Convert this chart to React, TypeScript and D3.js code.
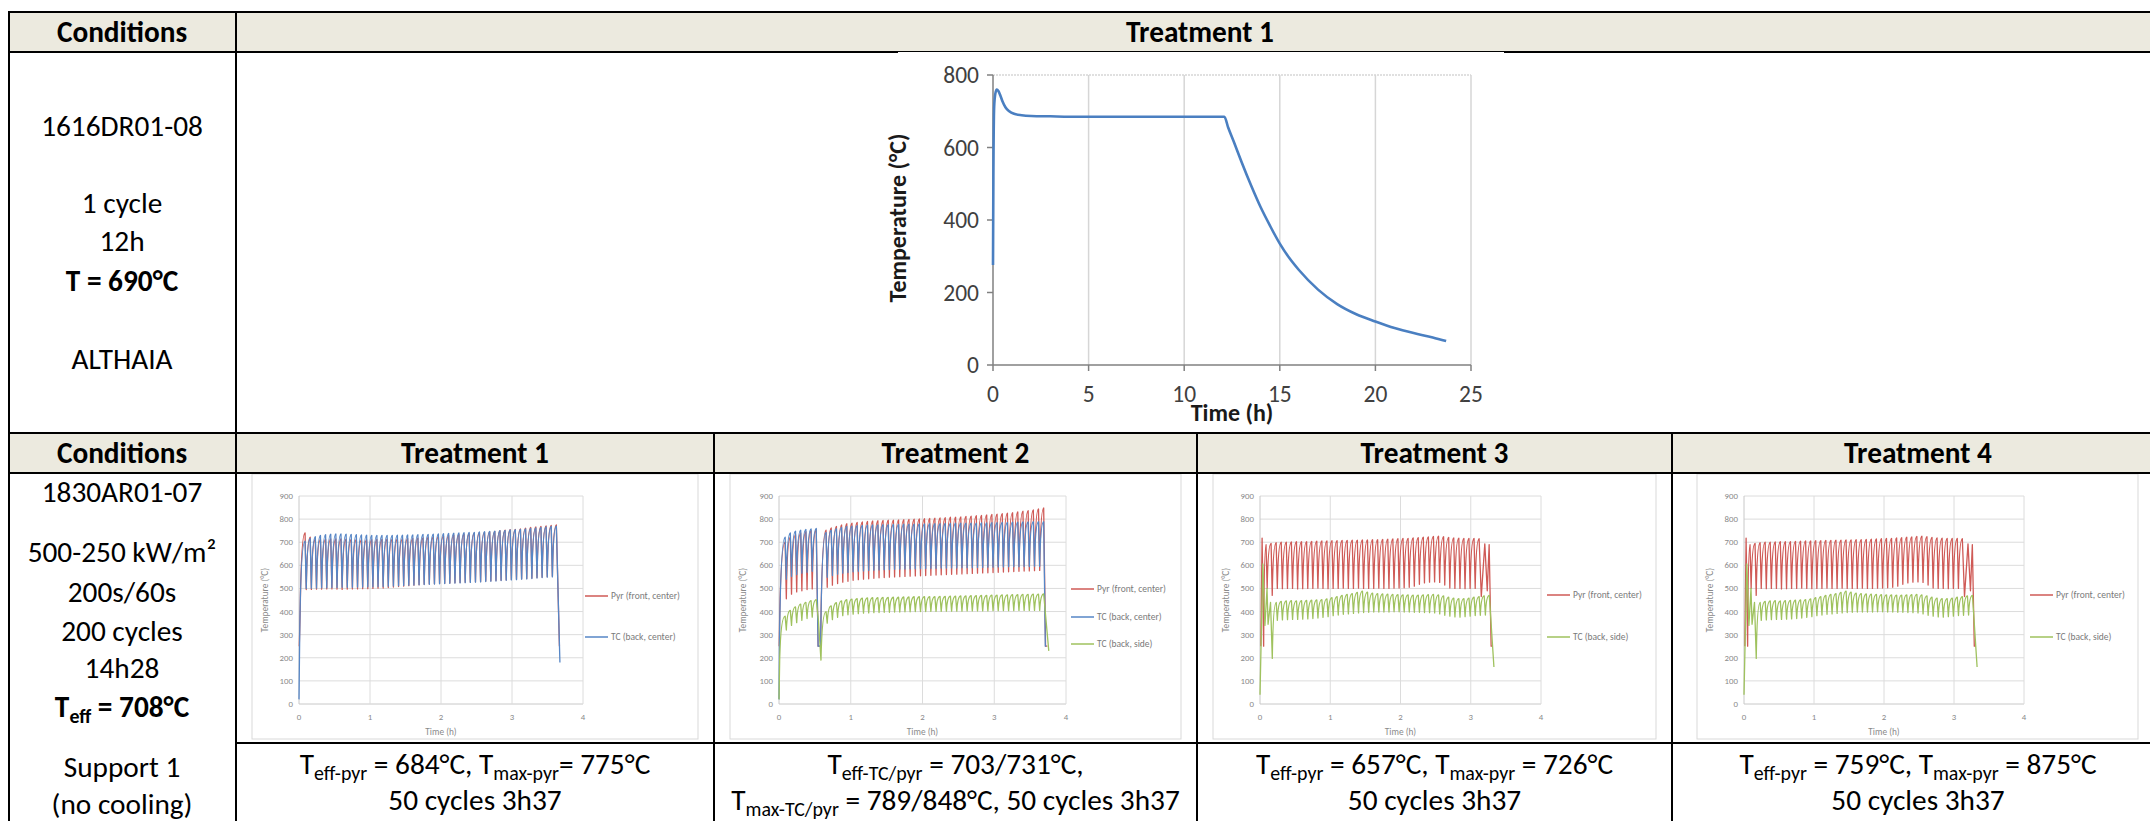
import React from "react";
import * as d3 from "d3";

const FONT = "Carlito, Calibri, 'Open Sans', 'Noto Sans', 'DejaVu Sans', sans-serif";

// ---------------- Top chart: 1616DR01-08 / Treatment 1 ----------------
const topTimeH = [0, 0.02, 0.06, 0.12, 0.2, 0.28, 0.38, 0.5, 0.65, 0.85, 1.1, 1.5, 2.0, 3, 4, 6, 8, 10, 12.1, 12.3, 12.6, 13, 13.5, 14, 14.5, 15, 15.5, 16, 17, 18, 19, 20, 21, 22, 23, 23.7];
const topTempC = [276, 520, 712, 748, 760, 756, 744, 727, 711, 700, 693, 689, 687, 686, 685, 685, 685, 685, 685, 655, 615, 560, 495, 435, 383, 335, 295, 262, 208, 168, 140, 120, 102, 88, 76, 66];
const topXTicks = [0, 5, 10, 15, 20, 25];
const topYTicks = [0, 200, 400, 600, 800];

// ---------------- Cycle timing (200s / 60s) ----------------
const HEAT_S = 200;
const COOL_S = 60;
const CYC_H = (HEAT_S + COOL_S) / 3600;
const HEAT_H = HEAT_S / 3600;

// ---------------- Treatment 1 (Pyr front center, TC back center) ----------------
const t1PyrStart: [number, number][] = [[0.004, 250], [0.018, 420]];
const t1PyrPeaks = [740, 722, 713, 712, 713, 714, 714, 714, 713, 712, 712, 711, 711, 711, 712, 712, 713, 713, 714, 715, 716, 717, 718, 719, 721, 723, 725, 727, 729, 731, 733, 735, 737, 739, 741, 743, 745, 747, 750, 752, 754, 756, 758, 761, 764, 766, 768, 771, 773, 775];
const t1PyrTroughs = [495, 496, 497, 497, 498, 498, 497, 496, 497, 498, 498, 499, 499, 500, 501, 502, 504, 506, 508, 510, 512, 514, 516, 518, 519, 520, 522, 523, 524, 525, 526, 527, 528, 529, 530, 532, 533, 534, 536, 537, 539, 540, 542, 543, 545, 547, 549, 551, 553];
const t1PyrEnd: [number, number][] = [[3.668, 250]];
const t1TcStart: [number, number][] = [[0.0, 20], [0.01, 300]];
const t1TcPeaks = [705, 716, 724, 729, 733, 735, 736, 736, 735, 734, 733, 732, 731, 730, 730, 729, 730, 730, 731, 731, 732, 732, 733, 734, 734, 735, 736, 737, 738, 739, 740, 741, 742, 743, 745, 746, 747, 748, 750, 751, 753, 754, 756, 758, 760, 762, 764, 766, 768, 770];
const t1TcTroughs = [500, 501, 502, 503, 503, 504, 504, 505, 505, 505, 506, 506, 507, 507, 508, 509, 510, 511, 512, 513, 514, 515, 516, 517, 518, 519, 520, 521, 522, 523, 524, 525, 526, 527, 528, 530, 531, 532, 534, 535, 537, 538, 540, 541, 543, 545, 547, 549, 550];
const t1TcEnd: [number, number][] = [[3.675, 180]];

// ---------------- Treatment 2 (Pyr, TC back center, TC back side) ----------------
const t2PyrStart: [number, number][] = [[0.003, 250]];
const t2PyrPeaksA = [700, 722, 733, 740, 746, 751, 755];
const t2PyrTroughsA = [455, 475, 485, 490, 495, 498];
const t2PyrPause: [number, number][] = [[0.545, 250], [0.58, 250]];
const t2PyrPeaksB = [752, 762, 769, 775, 780, 783, 786, 788, 790, 792, 793, 794, 795, 796, 797, 798, 799, 800, 801, 802, 803, 804, 805, 806, 808, 809, 810, 812, 813, 815, 816, 818, 820, 822, 824, 826, 828, 831, 834, 837, 840, 844, 848];
const t2PyrTroughsB = [505, 514, 521, 527, 531, 535, 538, 540, 542, 544, 546, 547, 549, 550, 551, 552, 553, 554, 555, 556, 557, 558, 559, 560, 561, 562, 563, 564, 565, 566, 567, 568, 569, 570, 571, 572, 573, 574, 575, 576, 577, 578];
const t2PyrEnd: [number, number][] = [[3.715, 250], [3.74, 250]];
const t2TcStart: [number, number][] = [[0.0, 20], [0.006, 250]];
const t2TcPeaksA = [722, 740, 748, 752, 756, 758, 760];
const t2TcTroughsA = [540, 552, 560, 566, 570, 574];
const t2TcPause: [number, number][] = [[0.545, 250], [0.58, 250]];
const t2TcPeaksB = [742, 752, 759, 764, 768, 770, 772, 773, 774, 775, 775, 776, 776, 777, 777, 778, 778, 778, 779, 779, 780, 780, 780, 781, 781, 782, 782, 782, 783, 783, 784, 784, 785, 785, 786, 786, 787, 787, 788, 788, 789, 789, 789];
const t2TcTroughsB = [548, 556, 562, 566, 569, 572, 574, 576, 578, 579, 580, 581, 582, 583, 584, 584, 585, 585, 586, 586, 587, 587, 588, 588, 589, 589, 590, 590, 590, 591, 591, 592, 592, 593, 593, 594, 594, 594, 595, 595, 596, 596];
const t2TcEnd: [number, number][] = [[3.712, 250], [3.725, 250]];
const t2SideStart: [number, number][] = [[0.0, 20], [0.01, 200]];
const t2SidePeaksA = [380, 405, 420, 432, 440, 447, 452];
const t2SideTroughsA = [320, 340, 352, 362, 370, 376];
const t2SidePause: [number, number][] = [[0.55, 360], [0.585, 190]];
const t2SidePeaksB = [400, 425, 438, 446, 451, 454, 456, 458, 459, 460, 460, 461, 461, 462, 462, 463, 463, 464, 464, 465, 465, 465, 466, 466, 467, 467, 468, 468, 469, 469, 470, 470, 471, 471, 472, 472, 473, 473, 474, 474, 475, 475, 476];
const t2SideTroughsB = [350, 365, 375, 382, 386, 389, 391, 393, 394, 395, 396, 397, 397, 398, 398, 399, 399, 400, 400, 400, 401, 401, 401, 402, 402, 402, 402, 403, 403, 403, 403, 403, 404, 404, 404, 404, 404, 405, 405, 405, 405, 405];
const t2SideEnd: [number, number][] = [[3.76, 230]];

// ---------------- Treatments 3 and 4 (Pyr, TC back side) ----------------
const t3PyrStart: [number, number][] = [[0.012, 250], [0.03, 718], [0.052, 250]];
const t3PyrPeaks = [690, 695, 698, 700, 700, 701, 702, 702, 703, 704, 705, 706, 706, 707, 707, 708, 708, 709, 709, 710, 710, 711, 711, 712, 713, 714, 715, 716, 717, 719, 720, 722, 723, 725, 726, 724, 721, 719, 718, 717, 716, 716, 715];
const t3PyrTroughs = [500, 470, 500, 499, 500, 500, 498, 499, 500, 500, 501, 500, 499, 500, 500, 501, 500, 500, 501, 500, 500, 500, 501, 500, 500, 501, 502, 503, 505, 510, 518, 524, 527, 528, 526, 515, 502, 500, 500, 499, 500, 500];
const t3PyrEnd: [number, number][] = [[3.15, 465], [3.2, 693], [3.235, 490], [3.262, 690], [3.29, 250], [3.31, 250]];
const t3SideStart: [number, number][] = [[0.0, 40], [0.04, 606], [0.07, 340], [0.1, 500], [0.115, 345], [0.15, 440], [0.175, 197]];
const t3SidePeaks = [440, 444, 446, 447, 446, 447, 448, 449, 450, 452, 455, 460, 465, 470, 474, 478, 483, 488, 484, 480, 478, 476, 475, 474, 473, 472, 472, 471, 471, 472, 473, 474, 472, 468, 462, 458, 456, 456, 458, 462, 465, 468, 470];
const t3SideTroughs = [362, 364, 365, 366, 366, 367, 368, 370, 372, 375, 378, 382, 385, 388, 390, 392, 394, 396, 397, 398, 398, 398, 398, 399, 399, 398, 398, 397, 397, 396, 395, 394, 390, 384, 380, 377, 376, 378, 380, 383, 384, 385];
const t3SideEnd: [number, number][] = [[3.3, 300], [3.33, 160]];

// ---------------- Table texts ----------------
const headerConditions = "Conditions";
const headerTreatments = ["Treatment 1", "Treatment 2", "Treatment 3", "Treatment 4"];
const topConditions = ["1616DR01-08", "1 cycle", "12h", "T = 690°C", "ALTHAIA"];
const bottomConditions = ["1830AR01-07", "500-250 kW/m²", "200s/60s", "200 cycles", "14h28", "T_eff = 708°C", "Support 1", "(no cooling)"];
type Part = [string, boolean];
const resultLines: Part[][][] = [
  [[["T", false], ["eff-pyr", true], [" = 684°C, T", false], ["max-pyr", true], ["= 775°C", false]], [["50 cycles 3h37", false]]],
  [[["T", false], ["eff-TC/pyr", true], [" = 703/731°C,", false]], [["T", false], ["max-TC/pyr", true], [" = 789/848°C, 50 cycles 3h37", false]]],
  [[["T", false], ["eff-pyr", true], [" = 657°C, T", false], ["max-pyr", true], [" = 726°C", false]], [["50 cycles 3h37", false]]],
  [[["T", false], ["eff-pyr", true], [" = 759°C, T", false], ["max-pyr", true], [" = 875°C", false]], [["50 cycles 3h37", false]]],
];
const smallYTicks = [0, 100, 200, 300, 400, 500, 600, 700, 800, 900];
const smallXTicks = [0, 1, 2, 3, 4];

const RED = "#cf5a56";
const BLUE = "#5686c6";
const GREEN = "#9fc25e";
const FS = 29.3;

type Seg = { kind: "pts"; pts: [number, number][] } | { kind: "cyc"; t0: number; peaks: number[]; troughs: number[] };
type Series = { name: string; color: string; segs: Seg[] };

function seriesPath(segs: Seg[], x: (v: number) => number, y: (v: number) => number): string {
  const p = d3.path();
  let cx = 0;
  let started = false;
  const go = (px: number, py: number) => {
    if (!started) { p.moveTo(px, py); started = true; } else p.lineTo(px, py);
    cx = px;
  };
  for (const s of segs) {
    if (s.kind === "pts") {
      s.pts.forEach(([t, v]) => go(x(t), y(v)));
    } else {
      s.peaks.forEach((pk, i) => {
        const px = x(s.t0 + i * CYC_H + HEAT_H);
        const py = y(pk);
        if (!started) go(px, py);
        else { p.quadraticCurveTo(cx + 0.22 * (px - cx), py, px, py); cx = px; }
        if (i < s.troughs.length) go(x(s.t0 + (i + 1) * CYC_H), y(s.troughs[i]));
      });
    }
  }
  return p.toString();
}

const t1Series: Series[] = [
  { name: "Pyr (front, center)", color: RED, segs: [{ kind: "pts", pts: t1PyrStart }, { kind: "cyc", t0: 0.03, peaks: t1PyrPeaks, troughs: t1PyrTroughs }, { kind: "pts", pts: t1PyrEnd }] },
  { name: "TC (back, center)", color: BLUE, segs: [{ kind: "pts", pts: t1TcStart }, { kind: "cyc", t0: 0.03, peaks: t1TcPeaks, troughs: t1TcTroughs }, { kind: "pts", pts: t1TcEnd }] },
];
const t2Series: Series[] = [
  { name: "Pyr (front, center)", color: RED, segs: [{ kind: "pts", pts: t2PyrStart }, { kind: "cyc", t0: 0.03, peaks: t2PyrPeaksA, troughs: t2PyrTroughsA }, { kind: "pts", pts: t2PyrPause }, { kind: "cyc", t0: 0.6, peaks: t2PyrPeaksB, troughs: t2PyrTroughsB }, { kind: "pts", pts: t2PyrEnd }] },
  { name: "TC (back, center)", color: BLUE, segs: [{ kind: "pts", pts: t2TcStart }, { kind: "cyc", t0: 0.03, peaks: t2TcPeaksA, troughs: t2TcTroughsA }, { kind: "pts", pts: t2TcPause }, { kind: "cyc", t0: 0.6, peaks: t2TcPeaksB, troughs: t2TcTroughsB }, { kind: "pts", pts: t2TcEnd }] },
  { name: "TC (back, side)", color: GREEN, segs: [{ kind: "pts", pts: t2SideStart }, { kind: "cyc", t0: 0.03, peaks: t2SidePeaksA, troughs: t2SideTroughsA }, { kind: "pts", pts: t2SidePause }, { kind: "cyc", t0: 0.6, peaks: t2SidePeaksB, troughs: t2SideTroughsB }, { kind: "pts", pts: t2SideEnd }] },
];
const t3Series: Series[] = [
  { name: "Pyr (front, center)", color: RED, segs: [{ kind: "pts", pts: t3PyrStart }, { kind: "cyc", t0: 0.03, peaks: t3PyrPeaks, troughs: t3PyrTroughs }, { kind: "pts", pts: t3PyrEnd }] },
  { name: "TC (back, side)", color: GREEN, segs: [{ kind: "pts", pts: t3SideStart }, { kind: "cyc", t0: 0.175, peaks: t3SidePeaks, troughs: t3SideTroughs }, { kind: "pts", pts: t3SideEnd }] },
];

function Rich({ x, y, parts, size = FS, weight = 400 }: { x: number; y: number; parts: Part[]; size?: number; weight?: number }) {
  let shifted = false;
  const nodes = parts.map(([s, sub], i) => {
    const dy = sub && !shifted ? 6 : !sub && shifted ? -6 : 0;
    shifted = sub;
    return (
      <tspan key={i} dy={dy} fontSize={sub ? size * 0.68 : size}>{s}</tspan>
    );
  });
  return (
    <text x={x} y={y} textAnchor="middle" fontFamily={FONT} fontWeight={weight} fontSize={size} fill="#000" style={{ whiteSpace: "pre" }}>
      {nodes}
    </text>
  );
}

function SmallChart({ fx0, fx1, px0, px1, series, legendX, legendYs, layer }: { fx0: number; fx1: number; px0: number; px1: number; series: Series[]; legendX: number; legendYs: number[]; layer: string }) {
  const x = d3.scaleLinear().domain([0, 4]).range([px0, px1]);
  const y = d3.scaleLinear().domain([0, 900]).range([704, 496]);
  return (
    <g>
      <rect x={fx0} y={474} width={fx1 - fx0} height={265} fill="#fff" stroke="#d9d9d9" strokeWidth={1} />
      {smallYTicks.map((v) => (
        <line key={"h" + v} x1={px0} x2={px1} y1={y(v)} y2={y(v)} stroke={v === 0 ? "#c8c8c8" : "#dcdcdc"} strokeWidth={1} />
      ))}
      {smallXTicks.map((v) => (
        <line key={"v" + v} x1={x(v)} x2={x(v)} y1={y(0)} y2={y(900)} stroke={v === 0 ? "#c8c8c8" : "#dcdcdc"} strokeWidth={1} />
      ))}
      {smallYTicks.map((v) => (
        <text key={"yl" + v} x={px0 - 6} y={y(v) + 3} textAnchor="end" fontFamily={FONT} fontSize={8.8} fill="#8a8a8a">{v}</text>
      ))}
      {smallXTicks.map((v) => (
        <text key={"xl" + v} x={x(v)} y={720} textAnchor="middle" fontFamily={FONT} fontSize={8.8} fill="#8a8a8a">{v}</text>
      ))}
      <text x={(px0 + px1) / 2} y={735} textAnchor="middle" fontFamily={FONT} fontSize={9.3} fill="#8a8a8a">Time (h)</text>
      <text transform={`translate(${fx0 + 16},600) rotate(-90)`} textAnchor="middle" fontFamily={FONT} fontSize={9.3} fill="#8a8a8a">Temperature (°C)</text>
      <clipPath id={"clip" + layer}>
        <rect x={px0 - 2} y={480} width={px1 - px0 + 12} height={230} />
      </clipPath>
      <g clipPath={`url(#clip${layer})`}>
        {series.map((s) => (
          <path key={s.name} d={seriesPath(s.segs, x, y)} fill="none" stroke={s.color} strokeWidth={1.3} strokeLinejoin="round" />
        ))}
      </g>
      {series.map((s, i) => (
        <g key={"lg" + s.name}>
          <line x1={legendX} x2={legendX + 23} y1={legendYs[i]} y2={legendYs[i]} stroke={s.color} strokeWidth={1.5} />
          <text x={legendX + 26} y={legendYs[i] + 3.2} fontFamily={FONT} fontSize={9.5} fill="#7a7a7a">{s.name}</text>
        </g>
      ))}
    </g>
  );
}

function TopChart() {
  const x = d3.scaleLinear().domain([0, 25]).range([993, 1471]);
  const y = d3.scaleLinear().domain([0, 800]).range([365, 75]);
  const line = d3.line<number>().x((_, i) => x(topTimeH[i])).y((d) => y(d)).curve(d3.curveMonotoneX);
  return (
    <g>
      <rect x={898} y={52} width={606} height={373} fill="#fff" />
      {topXTicks.slice(1).map((v) => (
        <line key={"g" + v} x1={x(v)} x2={x(v)} y1={y(0)} y2={y(800)} stroke="#d6d6d6" strokeWidth={1.5} />
      ))}
      <line x1={x(0)} x2={x(25)} y1={y(800)} y2={y(800)} stroke="#d6d6d6" strokeWidth={1.5} strokeDasharray="2 1" />
      <line x1={x(0)} x2={x(0)} y1={y(0)} y2={y(800)} stroke="#808080" strokeWidth={1.5} />
      <line x1={x(0)} x2={x(25)} y1={y(0)} y2={y(0)} stroke="#808080" strokeWidth={1.5} />
      {topYTicks.map((v) => (
        <g key={"yt" + v}>
          <line x1={x(0) - 6} x2={x(0)} y1={y(v)} y2={y(v)} stroke="#808080" strokeWidth={1.5} />
          <text x={x(0) - 14} y={y(v) + 8} textAnchor="end" fontFamily={FONT} fontSize={23.5} fill="#404040">{v}</text>
        </g>
      ))}
      {topXTicks.map((v) => (
        <g key={"xt" + v}>
          <line x1={x(v)} x2={x(v)} y1={y(0)} y2={y(0) + 6} stroke="#808080" strokeWidth={1.5} />
          <text x={x(v)} y={402} textAnchor="middle" fontFamily={FONT} fontSize={23.5} fill="#404040">{v}</text>
        </g>
      ))}
      <text x={1232} y={421} textAnchor="middle" fontFamily={FONT} fontWeight={700} fontSize={24} fill="#1a1a1a">Time (h)</text>
      <text transform="translate(906,218) rotate(-90)" textAnchor="middle" fontFamily={FONT} fontWeight={700} fontSize={24} fill="#1a1a1a">Temperature (°C)</text>
      <path d={line(topTempC) || ""} fill="none" stroke="#4a7fc1" strokeWidth={2.6} strokeLinejoin="round" />
    </g>
  );
}

export default function App() {
  const BEIGE = "#ECEADF";
  const LX = 9;
  const RX = 2170;
  const cols = [236, 714, 1197, 1672, 2164];
  const topColCenters = [122];
  const bottomCenters = [(cols[0] + cols[1]) / 2, (cols[1] + cols[2]) / 2, (cols[2] + cols[3]) / 2, (cols[3] + cols[4]) / 2];
  const topConditionYs = [136, 213, 251, 291, 369];
  const bottomConditionYs = [502, 562, 602, 641, 678, 717, 777, 814];
  return (
    <svg width={2150} height={821} style={{ position: "absolute", left: 0, top: 0, background: "#fff" }}>
      <rect x={0} y={0} width={2150} height={821} fill="#fff" />
      <rect x={LX} y={12} width={RX - LX} height={40} fill={BEIGE} />
      <rect x={LX} y={433} width={RX - LX} height={40} fill={BEIGE} />

      <TopChart />

      <SmallChart layer="a" fx0={252} fx1={698} px0={299} px1={583} series={t1Series} legendX={585} legendYs={[596, 637]} />
      <SmallChart layer="b" fx0={730} fx1={1181} px0={779} px1={1066} series={t2Series} legendX={1071} legendYs={[589, 617, 644]} />
      <SmallChart layer="c" fx0={1213} fx1={1656} px0={1260} px1={1541} series={t3Series} legendX={1547} legendYs={[595, 637]} />
      <SmallChart layer="d" fx0={1697} fx1={2138} px0={1744} px1={2024} series={t3Series} legendX={2030} legendYs={[595, 637]} />

      <g stroke="#000" strokeWidth={2}>
        <line x1={LX - 1} x2={RX} y1={12} y2={12} />
        <line x1={LX - 1} x2={898} y1={52} y2={52} />
        <line x1={1504} x2={RX} y1={52} y2={52} />
        <line x1={LX - 1} x2={RX} y1={433} y2={433} />
        <line x1={LX - 1} x2={RX} y1={473} y2={473} />
        <line x1={cols[0]} x2={RX} y1={743} y2={743} />
        <line x1={LX} x2={LX} y1={11} y2={821} />
        <line x1={cols[0]} x2={cols[0]} y1={11} y2={821} />
        <line x1={cols[1]} x2={cols[1]} y1={433} y2={821} />
        <line x1={cols[2]} x2={cols[2]} y1={433} y2={821} />
        <line x1={cols[3]} x2={cols[3]} y1={433} y2={821} />
      </g>
      <line x1={898} x2={1504} y1={51.5} y2={51.5} stroke="#000" strokeWidth={1} />

      <Rich x={topColCenters[0]} y={42} parts={[[headerConditions, false]]} weight={700} />
      <Rich x={(cols[0] + cols[4]) / 2} y={42} parts={[[headerTreatments[0], false]]} weight={700} />
      <Rich x={topColCenters[0]} y={463} parts={[[headerConditions, false]]} weight={700} />
      {headerTreatments.map((h, i) => (
        <Rich key={h} x={bottomCenters[i]} y={463} parts={[[h, false]]} weight={700} />
      ))}

      {topConditions.map((s, i) => (
        <Rich key={"tc" + i} x={topColCenters[0]} y={topConditionYs[i]} parts={[[s, false]]} weight={i === 3 ? 700 : 400} />
      ))}

      {bottomConditions.map((s, i) =>
        s.startsWith("T_eff") ? (
          <Rich key={"bc" + i} x={topColCenters[0]} y={bottomConditionYs[i]} parts={[["T", false], ["eff", true], [" = 708°C", false]]} weight={700} />
        ) : (
          <Rich key={"bc" + i} x={topColCenters[0]} y={bottomConditionYs[i]} parts={[[s, false]]} />
        )
      )}

      {resultLines.map((lines, i) =>
        lines.map((parts, j) => (
          <Rich key={"r" + i + "_" + j} x={bottomCenters[i]} y={j === 0 ? 774 : 810} parts={parts} />
        ))
      )}
    </svg>
  );
}
